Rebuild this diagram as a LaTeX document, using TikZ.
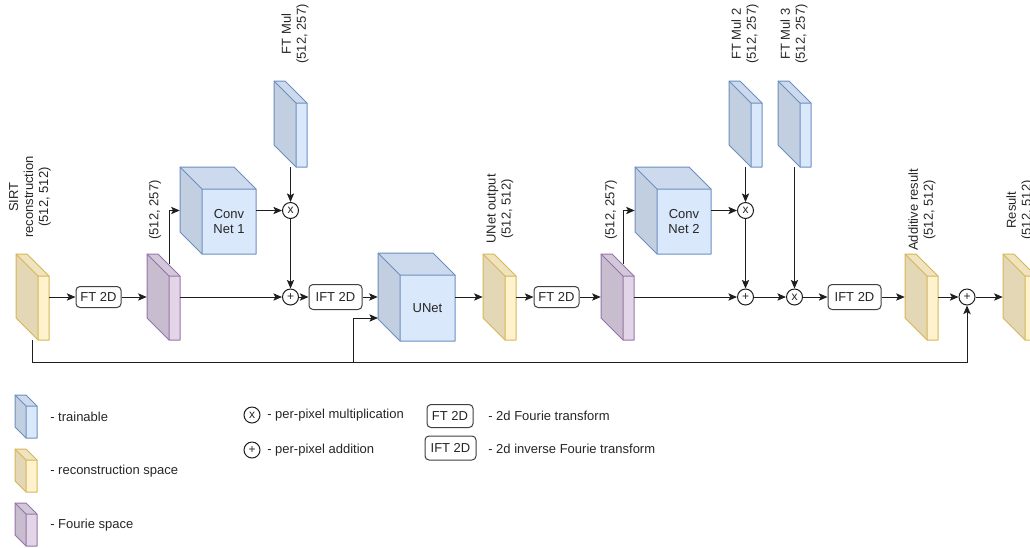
\documentclass[tikz,border=0pt]{standalone}
\usepackage{fontspec}
\setmainfont{Liberation Sans}
\usetikzlibrary{arrows.meta,fit}
\definecolor{bluef}{HTML}{DAE8FC}\definecolor{blues}{HTML}{6C8EBF}
\definecolor{yelf}{HTML}{FFF2CC}\definecolor{yels}{HTML}{D6B656}
\definecolor{purf}{HTML}{E1D5E7}\definecolor{purs}{HTML}{9673A6}
\definecolor{linec}{HTML}{1E1E1E}
\definecolor{textc}{HTML}{262626}
% name x1 y1 x2 y2 depth colour-prefix
\newcommand\drawslab[7]{%
  \node[fit={(#2,#3)(#4,#5)},inner sep=0pt] (#1) {};
  \fill[#7f!89!black] (#2,#3) -- ({#2+#6},{#3+#6}) -- ({#2+#6},#5) -- (#2,{#5-#6}) -- cycle;
  \fill[#7f!94!black] (#2,#3) -- ({#4-#6},#3) -- (#4,{#3+#6}) -- ({#2+#6},{#3+#6}) -- cycle;
  \fill[#7f] ({#2+#6},{#3+#6}) rectangle (#4,#5);
  \draw[#7s,line width=0.75pt,line join=round] (#2,#3) -- ({#4-#6},#3) -- (#4,{#3+#6}) -- (#4,#5) -- ({#2+#6},#5) -- (#2,{#5-#6}) -- cycle;
  \draw[#7s,line width=0.75pt,line join=round] (#2,#3) -- ({#2+#6},{#3+#6}) -- (#4,{#3+#6}) ({#2+#6},{#3+#6}) -- ({#2+#6},#5);
}
\tikzset{
  txt/.style={font=\fontsize{9.75}{11.25}\selectfont, text=textc, inner sep=0pt},
  vlabel/.style={txt, rotate=90, align=center},
  opnode/.style={circle, draw=linec, line width=0.75pt, fill=white, minimum size=12pt, inner sep=0pt,
                 font=\fontsize{9}{9}\selectfont, text=textc},
  procbox/.style={draw=black!75, rounded corners=3pt, line width=0.75pt, fill=white, inner sep=0pt,
                  font=\fontsize{9.75}{11.25}\selectfont, text=textc},
  arr/.style={draw=linec, line width=0.75pt, -{Stealth[length=6.5pt,width=5.5pt,inset=1.5pt]}},
  ln/.style={draw=linec, line width=0.75pt},
}
\begin{document}
\begin{tikzpicture}[x=0.75pt,y=-0.75pt]
\useasboundingbox (0,0) rectangle (1030,547);
\clip (0,0) rectangle (1030,547);

% ---------- main row ----------
\drawslab{sirt}{16}{254}{49}{340}{22}{yel}
\node[procbox, minimum width=33.75pt, minimum height=15.75pt] (ft1) at (98.5,297) {FT 2D};
\drawslab{p1}{147}{254}{180}{340}{22}{pur}
\drawslab{conv1}{180}{167}{256}{254}{22}{blue}
\node[txt, align=center] (conv1t) at (229,221.5) {Conv\\Net 1};
\drawslab{ftm1}{274}{81}{307}{167}{22}{blue}
\node[opnode] (mul1) at (290.5,210.5) {x};
\node[opnode] (add1) at (290.5,297) {+};
\node[procbox, minimum width=39.75pt, minimum height=18.75pt] (ift1) at (335.5,297) {IFT 2D};
\drawslab{unet}{378}{253}{455}{341}{22}{blue}
\node[txt] (unett) at (427.5,308) {UNet};
\drawslab{uo}{483}{254}{516}{340}{22}{yel}
\node[procbox, minimum width=33.75pt, minimum height=15.75pt] (ft2) at (556.5,297) {FT 2D};
\drawslab{p2}{601}{254}{634}{340}{22}{pur}
\drawslab{conv2}{635}{167}{711}{254}{22}{blue}
\node[txt, align=center] (conv2t) at (684,221.5) {Conv\\Net 2};
\drawslab{ftm2}{729}{81}{762}{167}{22}{blue}
\drawslab{ftm3}{778}{81}{811}{167}{22}{blue}
\node[opnode] (mul2) at (745.5,210.5) {x};
\node[opnode] (add2) at (745.5,297) {+};
\node[opnode] (mul3) at (794.5,297) {x};
\node[procbox, minimum width=39.75pt, minimum height=18.75pt] (ift2) at (854.5,297) {IFT 2D};
\drawslab{addres}{905}{254}{938}{340}{22}{yel}
\node[opnode] (add3) at (967,297) {+};
\drawslab{result}{1003}{254}{1036}{340}{22}{yel}

% ---------- labels ----------
\node[vlabel] (lsirt) at (30,197) {SIRT\\reconstruction\\(512, 512)};
\node[vlabel] (lp1) at (155,210) {(512, 257)};
\node[vlabel] (lftm1) at (295,34) {FT Mul\\(512, 257)};
\node[vlabel] (luo) at (500,209) {UNet output\\(512, 512)};
\node[vlabel] (lp2) at (611,210) {(512, 257)};
\node[vlabel] (lftm2) at (745,34) {FT Mul 2\\(512, 257)};
\node[vlabel] (lftm3) at (794,34) {FT Mul 3\\(512, 257)};
\node[vlabel] (laddres) at (922,210) {Additive result\\(512, 512)};
\node[vlabel] (lresult) at (1020,210) {Result\\(512, 512)};

% ---------- connectors ----------
\coordinate (p1tap) at (169,264);
\coordinate (p2tap) at (623,264);
\coordinate (fb0) at (32.5,362);
\coordinate (fb1) at (353,362);
\coordinate (unetin) at (378,318);

\draw[arr] (sirt) -- (ft1);
\draw[arr] (ft1) -- (p1);
\draw[arr] (p1tap) |- (conv1);
\draw[arr] (conv1) -- (mul1);
\draw[arr] (ftm1) -- (mul1);
\draw[arr] (mul1) -- (add1);
\draw[arr] (p1) -- (add1);
\draw[arr] (add1) -- (ift1);
\draw[arr] (ift1) -- (unet);
\draw[ln] (sirt.south) -- (fb0) -- (fb1);
\draw[arr] (fb1) -- (fb1 |- unetin) -- (unetin);
\draw[arr] (unet) -- (uo);
\draw[arr] (uo) -- (ft2);
\draw[arr] (ft2) -- (p2);
\draw[arr] (p2tap) |- (conv2);
\draw[arr] (conv2) -- (mul2);
\draw[arr] (ftm2) -- (mul2);
\draw[arr] (mul2) -- (add2);
\draw[arr] (p2) -- (add2);
\draw[arr] (add2) -- (mul3);
\draw[arr] (ftm3) -- (mul3);
\draw[arr] (mul3) -- (ift2);
\draw[arr] (ift2) -- (addres);
\draw[arr] (addres) -- (add3);
\draw[arr] (fb0) -| (add3);
\draw[arr] (add3) -- (result);

% ---------- legend ----------
\drawslab{legt}{15}{395}{37}{438}{11}{blue}
\drawslab{legy}{15}{449}{37}{492}{11}{yel}
\drawslab{legp}{15}{503}{37}{546}{11}{pur}
\node[txt, anchor=west] (legtt) at (50,417) {- trainable};
\node[txt, anchor=west] (legyt) at (50,471) {- reconstruction space};
\node[txt, anchor=west] (legpt) at (50,525) {- Fourie space};
\node[opnode] (legmul) at (252,415) {x};
\node[opnode] (legadd) at (252,450) {+};
\node[txt, anchor=west] (legmult) at (267,415) {- per-pixel multiplication};
\node[txt, anchor=west] (legaddt) at (267,450) {- per-pixel addition};
\node[procbox, minimum width=34.5pt, minimum height=17.25pt] (legft) at (450,416) {FT 2D};
\node[procbox, minimum width=38.25pt, minimum height=18pt] (legift) at (450.5,448) {IFT 2D};
\node[txt, anchor=west] (legftt) at (488,416) {- 2d Fourie transform};
\node[txt, anchor=west] (legiftt) at (488,449) {- 2d inverse Fourie transform};
\end{tikzpicture}
\end{document}
